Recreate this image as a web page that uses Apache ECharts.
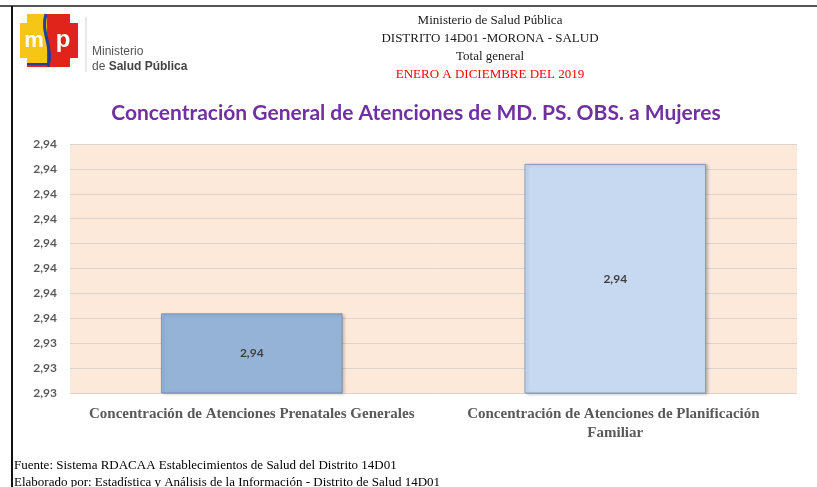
<!DOCTYPE html>
<html>
<head>
<meta charset="utf-8">
<script src="https://cdn.jsdelivr.net/npm/echarts@6/dist/echarts.min.js"></script>
<style>
  html, body { margin: 0; padding: 0; background: #fff; }
  #chart { width: 817px; height: 487px; }
</style>
</head>
<body>
<div id="chart"></div>
<script>
// data
const categories = [
  "Concentración de Atenciones Prenatales Generales",
  "Concentración de Atenciones de Planificación Familiar"
];
const values = [2.9351, 2.9381];
const barColors = ["#95b3d7", "#c6d9f1"];
// Excel printed the axis with 2 decimals only
const yTickLabels = ["2,93", "2,93", "2,93", "2,94", "2,94", "2,94", "2,94", "2,94", "2,94", "2,94", "2,94"];
const headerLines = [
  "Ministerio de Salud Pública",
  "DISTRITO 14D01 -MORONA - SALUD",
  "Total general",
  "ENERO A DICIEMBRE DEL 2019"
];
const footerLines = [
  "Fuente: Sistema RDACAA Establecimientos de Salud del Distrito 14D01",
  "Elaborado por: Estadística y Análisis de la Información - Distrito de Salud 14D01"
];

const chart = echarts.init(document.getElementById("chart"));

const serif = "Liberation Serif";

const titles = headerLines.map((t, i) => ({
  text: t,
  left: 485,
  textAlign: "center",
  top: 9 + i * 18,
  textStyle: {
    fontFamily: serif,
    fontSize: 13,
    fontWeight: "normal",
    color: i === 3 ? "#ff0000" : "#1a1a1a"
  }
}));
titles.push({
  text: "Concentración General de Atenciones de MD. PS. OBS. a Mujeres",
  left: 411,
  textAlign: "center",
  top: 98,
  textStyle: { fontFamily: "Lato", fontSize: 21, fontWeight: "bold", color: "#7030a0" }
});
footerLines.forEach((t, i) => {
  titles.push({
    text: t,
    left: 9,
    top: 454 + i * 17,
    textStyle: { fontFamily: serif, fontSize: 13, fontWeight: "normal", color: "#000" }
  });
});

chart.setOption({
  backgroundColor: "#fff",
  animation: false,
  title: titles,
  grid: {
    left: 70,
    right: 20,
    top: 144,
    bottom: 94,
    show: true,
    backgroundColor: "#fde9d9",
    borderWidth: 0
  },
  xAxis: {
    type: "category",
    data: categories,
    axisLine: { show: false },
    axisTick: { show: false },
    axisLabel: {
      interval: 0,
      margin: 12,
      width: 345,
      overflow: "break",
      lineHeight: 19,
      fontFamily: serif,
      fontSize: 15,
      fontWeight: "bold",
      color: "#595959"
    }
  },
  yAxis: {
    type: "value",
    min: 2.9335,
    max: 2.9385,
    interval: 0.0005,
    axisLine: { show: false },
    axisTick: { show: false },
    splitLine: { lineStyle: { color: "#d9d4cf", width: 1 } },
    axisLabel: {
      margin: 13,
      fontFamily: "Lato",
      fontSize: 12,
      fontWeight: "bold",
      color: "#595959",
      formatter: (v, i) => yTickLabels[i]
    }
  },
  series: [{
    type: "bar",
    barWidth: "50%",
    data: values.map((v, i) => ({
      value: v,
      itemStyle: { color: barColors[i] }
    })),
    itemStyle: {
      borderColor: "rgba(90,120,160,0.6)",
      borderWidth: 1,
      shadowColor: "rgba(0,0,0,0.25)",
      shadowBlur: 3,
      shadowOffsetX: 2,
      shadowOffsetY: 1
    },
    label: {
      show: true,
      position: "inside",
      fontFamily: "Lato",
      fontSize: 12,
      fontWeight: "bold",
      color: "#404040",
      formatter: p => p.value.toFixed(2).replace(".", ",")
    }
  }],
  graphic: [
    // page frame lines
    { type: "line", shape: { x1: 0, y1: 6, x2: 817, y2: 6 }, style: { stroke: "#555", lineWidth: 2 } },
    { type: "line", shape: { x1: 12, y1: 6, x2: 12, y2: 487 }, style: { stroke: "#111", lineWidth: 2 } },
    // logo
    { type: "polygon", shape: { points: [[20,23],[27,23],[27,14],[47,14],[47,67],[27,67],[27,58],[20,58]] }, style: { fill: "#f6c616" } },
    { type: "polygon", shape: { points: [[47,14],[70,14],[70,23],[78,23],[78,58],[70,58],[70,67],[47,67]] }, style: { fill: "#e0241c" } },
    { type: "bezierCurve", shape: { x1: 46, y1: 14, cpx1: 40, cpy1: 32, cpx2: 54, cpy2: 48, x2: 48, y2: 67 }, style: { stroke: "#1f3f98", lineWidth: 3, fill: null } },
    { type: "rect", shape: { x: 27, y: 63, width: 20, height: 2 }, style: { fill: "#1f3f98" } },
    { type: "rect", shape: { x: 27, y: 65, width: 20, height: 2 }, style: { fill: "#e0241c" } },
    { type: "text", x: 34, y: 41, style: { text: "m", fill: "#fff", font: "bold 22px Arial", align: "center", verticalAlign: "middle" } },
    { type: "text", x: 63, y: 40, style: { text: "p", fill: "#fff", font: "bold 24px Arial", align: "center", verticalAlign: "middle" } },
    { type: "line", shape: { x1: 86, y1: 17, x2: 86, y2: 72 }, style: { stroke: "#d0d0d0", lineWidth: 1 } },
    { type: "text", x: 92, y: 46, style: { text: "Ministerio", fill: "#555", font: "12px 'Liberation Sans'" } },
    { type: "text", x: 92, y: 61, style: {
      text: "{a|de }{b|Salud Pública}",
      rich: {
        a: { fill: "#555", font: "12px 'Liberation Sans'" },
        b: { fill: "#444", font: "bold 12px 'Liberation Sans'" }
      }
    } }
  ]
});
</script>
</body>
</html>
